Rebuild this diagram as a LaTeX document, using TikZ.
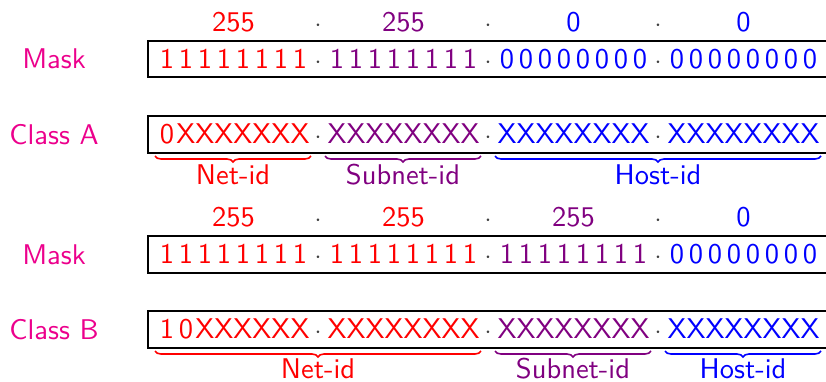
\documentclass[tikz,border=0pt]{standalone}
\usepackage{fontspec}
\newfontfamily\lmsten{lmsans10-regular.otf}
\usetikzlibrary{decorations.pathreplacing}
\definecolor{cred}{RGB}{255,0,0}
\definecolor{cpur}{RGB}{128,0,128}
\definecolor{cblu}{RGB}{0,0,255}
\definecolor{clab}{RGB}{236,0,140}
\tikzset{
  ch/.style={inner sep=0pt, anchor=base, font=\lmsten\fontsize{28.5}{34}\selectfont},
  dotc/.style={inner sep=0pt, anchor=base, font=\fontsize{28.5}{34}\selectfont, text=black!75},
  lab/.style={inner sep=0pt, anchor=base, text=clab, font=\lmsten\fontsize{28.5}{34}\selectfont},
  boxst/.style={draw=black, line width=2.6pt},
  brc/.style={line width=1.6pt, decorate, decoration={brace, mirror, amplitude=6pt}},
}
\newcommand\putbyte[4]{%
  \foreach \c [count=\j from 0] in {#4}{%
    \node[ch, text=#3] (r#2g#1c\j) at ({167+170*#1+19*\j},-#2) {\c};}}
\newcommand\putdots[2]{%
  \foreach \g in {0,1,2}{\node[dotc] (d#1g\g) at ({318+170*\g},-#2) {$\cdot$};}}
\begin{document}
\begin{tikzpicture}[x=1pt,y=1pt]
\clip (0,0) rectangle (826,-381);
% ---- Row 1: Mask
\node[lab] (mask1) at (54,-68) {Mask};
\node[ch,text=cred] (n1a) at (233.5,-31) {255};
\node[ch,text=cpur] (n1b) at (403.5,-31) {255};
\node[ch,text=cblu] (n1c) at (573.5,-31) {0};
\node[ch,text=cblu] (n1d) at (743.5,-31) {0};
\putdots{t1}{31}
\draw[boxst] (148,-41) rectangle (840,-77);
\putbyte{0}{68}{cred}{1,1,1,1,1,1,1,1}
\putbyte{1}{68}{cpur}{1,1,1,1,1,1,1,1}
\putbyte{2}{68}{cblu}{0,0,0,0,0,0,0,0}
\putbyte{3}{68}{cblu}{0,0,0,0,0,0,0,0}
\putdots{m1}{68}
% ---- Row 2: Class A
\node[lab] (classA) at (54,-144) {Class A};
\draw[boxst] (148,-116) rectangle (840,-153);
\putbyte{0}{143}{cred}{0,X,X,X,X,X,X,X}
\putbyte{1}{143}{cpur}{X,X,X,X,X,X,X,X}
\putbyte{2}{143}{cblu}{X,X,X,X,X,X,X,X}
\putbyte{3}{143}{cblu}{X,X,X,X,X,X,X,X}
\putdots{a}{143}
\draw[brc,cred] (155,-156) -- (311,-156);
\draw[brc,cpur] (325,-156) -- (481,-156);
\draw[brc,cblu] (495,-156) -- (821,-156);
\node[ch,text=cred] (aNet) at (233,-184) {Net-id};
\node[ch,text=cpur] (aSub) at (403,-184) {Subnet-id};
\node[ch,text=cblu] (aHost) at (658,-184) {Host-id};
% ---- Row 3: Mask
\node[lab] (mask2) at (54,-264) {Mask};
\node[ch,text=cred] (n3a) at (233.5,-226) {255};
\node[ch,text=cred] (n3b) at (403.5,-226) {255};
\node[ch,text=cpur] (n3c) at (573.5,-226) {255};
\node[ch,text=cblu] (n3d) at (743.5,-226) {0};
\putdots{t3}{226}
\draw[boxst] (148,-236) rectangle (840,-273);
\putbyte{0}{263}{cred}{1,1,1,1,1,1,1,1}
\putbyte{1}{263}{cred}{1,1,1,1,1,1,1,1}
\putbyte{2}{263}{cpur}{1,1,1,1,1,1,1,1}
\putbyte{3}{263}{cblu}{0,0,0,0,0,0,0,0}
\putdots{m3}{263}
% ---- Row 4: Class B
\node[lab] (classB) at (54,-339) {Class B};
\draw[boxst] (148,-311) rectangle (840,-348);
\putbyte{0}{338}{cred}{1,0,X,X,X,X,X,X}
\putbyte{1}{338}{cred}{X,X,X,X,X,X,X,X}
\putbyte{2}{338}{cpur}{X,X,X,X,X,X,X,X}
\putbyte{3}{338}{cblu}{X,X,X,X,X,X,X,X}
\putdots{b}{338}
\draw[brc,cred] (155,-351) -- (481,-351);
\draw[brc,cpur] (495,-351) -- (651,-351);
\draw[brc,cblu] (665,-351) -- (821,-351);
\node[ch,text=cred] (bNet) at (318,-378) {Net-id};
\node[ch,text=cpur] (bSub) at (573,-378) {Subnet-id};
\node[ch,text=cblu] (bHost) at (743,-378) {Host-id};
\end{tikzpicture}
\end{document}
